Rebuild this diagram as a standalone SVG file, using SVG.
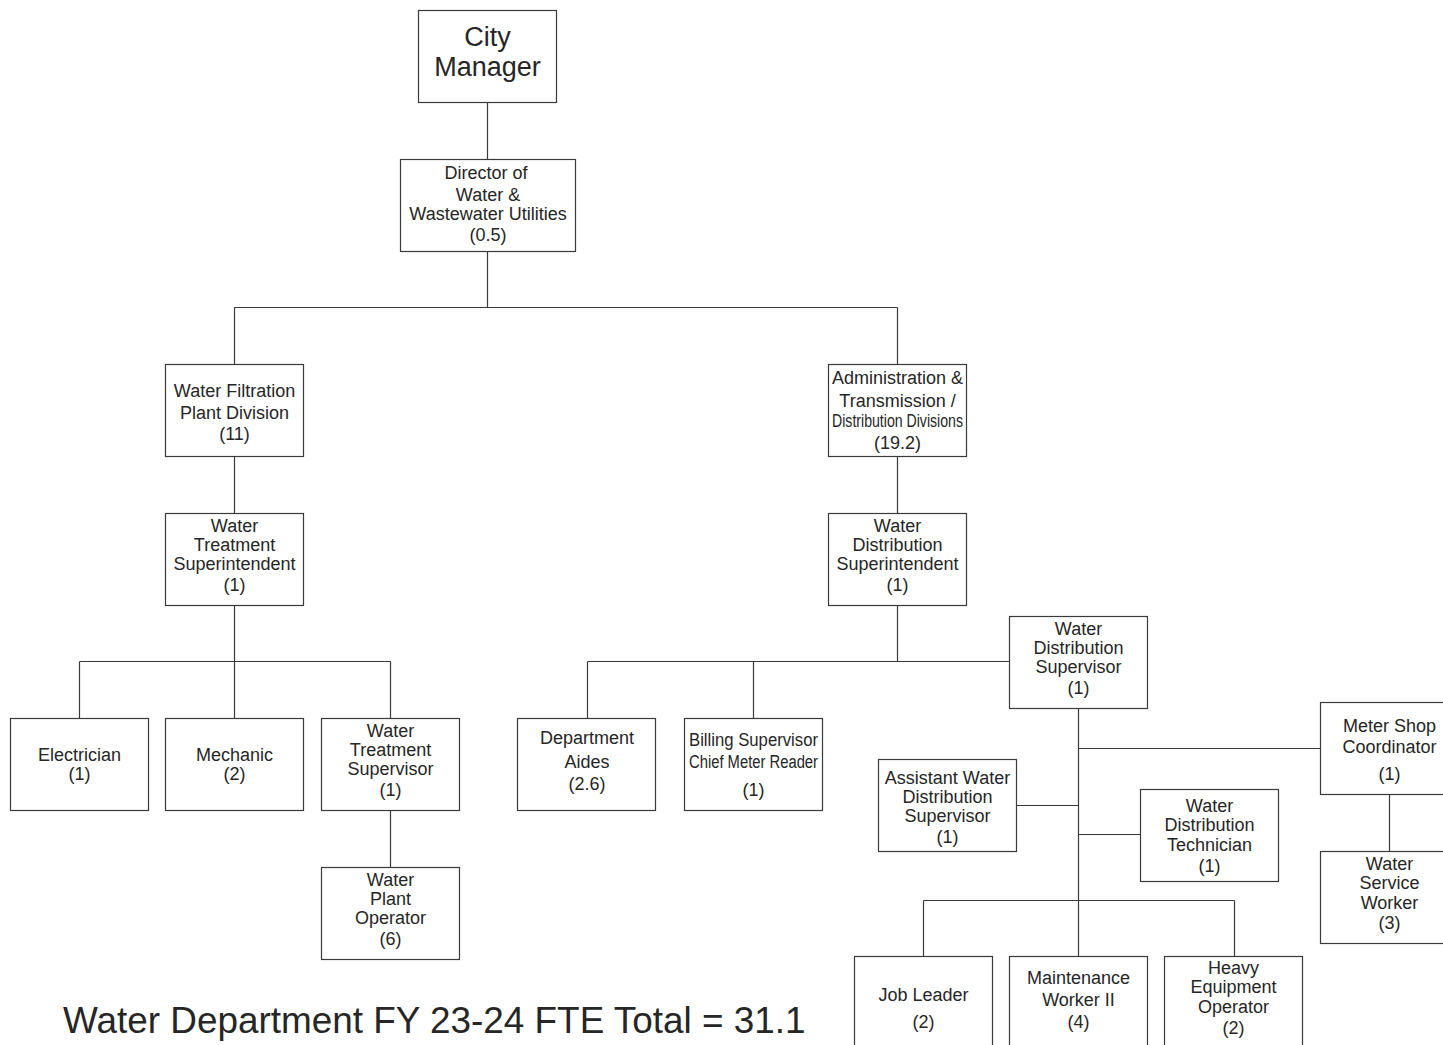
<svg xmlns="http://www.w3.org/2000/svg" width="1443" height="1045" viewBox="0 0 1443 1045">
  <style>
    .box { fill: #ffffff; stroke: #3a3a3a; stroke-width: 1.2; }
    .ln { fill: none; stroke: #3a3a3a; stroke-width: 1.2; }
    text { font-family: "Liberation Sans", Arial, sans-serif; font-size: 18px; fill: #262626; text-anchor: middle; }
    .big { font-size: 27px; }
    .title { font-size: 36.9px; text-anchor: start; }
  </style>
  <rect width="1443" height="1045" fill="#ffffff"/>

  <!-- reporting lines -->
  <g id="connectors">
    <path class="ln" d="M487.5 102 V159"/>
    <path class="ln" d="M487.5 251 V307.5 M234.5 307.5 H897.5 M234.5 307.5 V364 M897.5 307.5 V364"/>
    <path class="ln" d="M234.5 457 V513"/>
    <path class="ln" d="M897.5 457 V513"/>
    <path class="ln" d="M234.5 605 V661.5 M79.5 661.5 H390.5 M79.5 661.5 V718 M234.5 661.5 V718 M390.5 661.5 V718"/>
    <path class="ln" d="M390.5 810 V867"/>
    <path class="ln" d="M897.5 605 V661.5 M587.5 661.5 H1009 M587.5 661.5 V718 M753.5 661.5 V718"/>
    <path class="ln" d="M1078.5 708 V956"/>
    <path class="ln" d="M1078.5 748.5 H1320"/>
    <path class="ln" d="M1389.5 795 V851"/>
    <path class="ln" d="M1016 805.5 H1078.5"/>
    <path class="ln" d="M1078.5 834.5 H1140"/>
    <path class="ln" d="M923.5 900.5 H1234.5 M923.5 900.5 V956 M1234.5 900.5 V956"/>
  </g>

  <g id="city-manager">
    <rect class="box" x="418.5" y="10.5" width="138" height="92"/>
    <text class="big" x="487.5" y="46">City</text>
    <text class="big" x="487.5" y="76">Manager</text>
  </g>

  <g id="director">
    <rect class="box" x="400.5" y="159.5" width="175" height="92"/>
    <text x="486" y="179">Director of</text>
    <text x="488" y="201">Water &amp;</text>
    <text x="488" y="220">Wastewater Utilities</text>
    <text x="488" y="241">(0.5)</text>
  </g>

  <g id="water-filtration">
    <rect class="box" x="165.5" y="364.5" width="138" height="92"/>
    <text x="234.5" y="397">Water Filtration</text>
    <text x="234.5" y="419">Plant Division</text>
    <text x="234.5" y="440">(11)</text>
  </g>

  <g id="admin-transmission">
    <rect class="box" x="828.5" y="364.5" width="138" height="92"/>
    <text x="897.5" y="384">Administration &amp;</text>
    <text x="897.5" y="407">Transmission /</text>
    <text x="897.5" y="427" font-size="16.5" textLength="131" lengthAdjust="spacingAndGlyphs">Distribution Divisions</text>
    <text x="897.5" y="449">(19.2)</text>
  </g>

  <g id="water-treatment-superintendent">
    <rect class="box" x="165.5" y="513.5" width="138" height="92"/>
    <text x="234.5" y="532">Water</text>
    <text x="234.5" y="551">Treatment</text>
    <text x="234.5" y="570">Superintendent</text>
    <text x="234.5" y="591">(1)</text>
  </g>

  <g id="water-distribution-superintendent">
    <rect class="box" x="828.5" y="513.5" width="138" height="92"/>
    <text x="897.5" y="532">Water</text>
    <text x="897.5" y="551">Distribution</text>
    <text x="897.5" y="570">Superintendent</text>
    <text x="897.5" y="591">(1)</text>
  </g>

  <g id="electrician">
    <rect class="box" x="10.5" y="718.5" width="138" height="92"/>
    <text x="79.5" y="761">Electrician</text>
    <text x="79.5" y="780">(1)</text>
  </g>

  <g id="mechanic">
    <rect class="box" x="165.5" y="718.5" width="138" height="92"/>
    <text x="234.5" y="761">Mechanic</text>
    <text x="234.5" y="780">(2)</text>
  </g>

  <g id="water-treatment-supervisor">
    <rect class="box" x="321.5" y="718.5" width="138" height="92"/>
    <text x="390.5" y="737">Water</text>
    <text x="390.5" y="756">Treatment</text>
    <text x="390.5" y="775">Supervisor</text>
    <text x="390.5" y="796">(1)</text>
  </g>

  <g id="water-plant-operator">
    <rect class="box" x="321.5" y="867.5" width="138" height="92"/>
    <text x="390.5" y="886">Water</text>
    <text x="390.5" y="905">Plant</text>
    <text x="390.5" y="924">Operator</text>
    <text x="390.5" y="945">(6)</text>
  </g>

  <g id="department-aides">
    <rect class="box" x="517.5" y="718.5" width="138" height="92"/>
    <text x="587" y="744">Department</text>
    <text x="587" y="768">Aides</text>
    <text x="587" y="790">(2.6)</text>
  </g>

  <g id="billing-supervisor">
    <rect class="box" x="684.5" y="718.5" width="138" height="92"/>
    <text x="753.5" y="746" textLength="129" lengthAdjust="spacingAndGlyphs">Billing Supervisor</text>
    <text x="753.5" y="768" textLength="129" lengthAdjust="spacingAndGlyphs">Chief Meter Reader</text>
    <text x="753.5" y="796">(1)</text>
  </g>

  <g id="water-distribution-supervisor">
    <rect class="box" x="1009.5" y="616.5" width="138" height="92"/>
    <text x="1078.5" y="635">Water</text>
    <text x="1078.5" y="654">Distribution</text>
    <text x="1078.5" y="673">Supervisor</text>
    <text x="1078.5" y="694">(1)</text>
  </g>

  <g id="meter-shop-coordinator">
    <rect class="box" x="1320.5" y="702.5" width="138" height="92"/>
    <text x="1389.5" y="732">Meter Shop</text>
    <text x="1389.5" y="753">Coordinator</text>
    <text x="1389.5" y="780">(1)</text>
  </g>

  <g id="water-service-worker">
    <rect class="box" x="1320.5" y="851.5" width="138" height="92"/>
    <text x="1389.5" y="870">Water</text>
    <text x="1389.5" y="889">Service</text>
    <text x="1389.5" y="909">Worker</text>
    <text x="1389.5" y="929">(3)</text>
  </g>

  <g id="assistant-water-distribution-supervisor">
    <rect class="box" x="878.5" y="759.5" width="138" height="92"/>
    <text x="947.5" y="784">Assistant Water</text>
    <text x="947.5" y="803">Distribution</text>
    <text x="947.5" y="822">Supervisor</text>
    <text x="947.5" y="843">(1)</text>
  </g>

  <g id="water-distribution-technician">
    <rect class="box" x="1140.5" y="789.5" width="138" height="92"/>
    <text x="1209.5" y="812">Water</text>
    <text x="1209.5" y="831">Distribution</text>
    <text x="1209.5" y="851">Technician</text>
    <text x="1209.5" y="872">(1)</text>
  </g>

  <g id="job-leader">
    <rect class="box" x="854.5" y="956.5" width="138" height="100"/>
    <text x="923.5" y="1001">Job Leader</text>
    <text x="923.5" y="1028">(2)</text>
  </g>

  <g id="maintenance-worker">
    <rect class="box" x="1009.5" y="956.5" width="138" height="100"/>
    <text x="1078.5" y="984">Maintenance</text>
    <text x="1078.5" y="1006">Worker II</text>
    <text x="1078.5" y="1028">(4)</text>
  </g>

  <g id="heavy-equipment-operator">
    <rect class="box" x="1164.5" y="956.5" width="138" height="100"/>
    <text x="1233.5" y="974">Heavy</text>
    <text x="1233.5" y="993">Equipment</text>
    <text x="1233.5" y="1013">Operator</text>
    <text x="1233.5" y="1034">(2)</text>
  </g>

  <text class="title" x="63" y="1033">Water Department FY 23-24 FTE Total = 31.1</text>
</svg>
